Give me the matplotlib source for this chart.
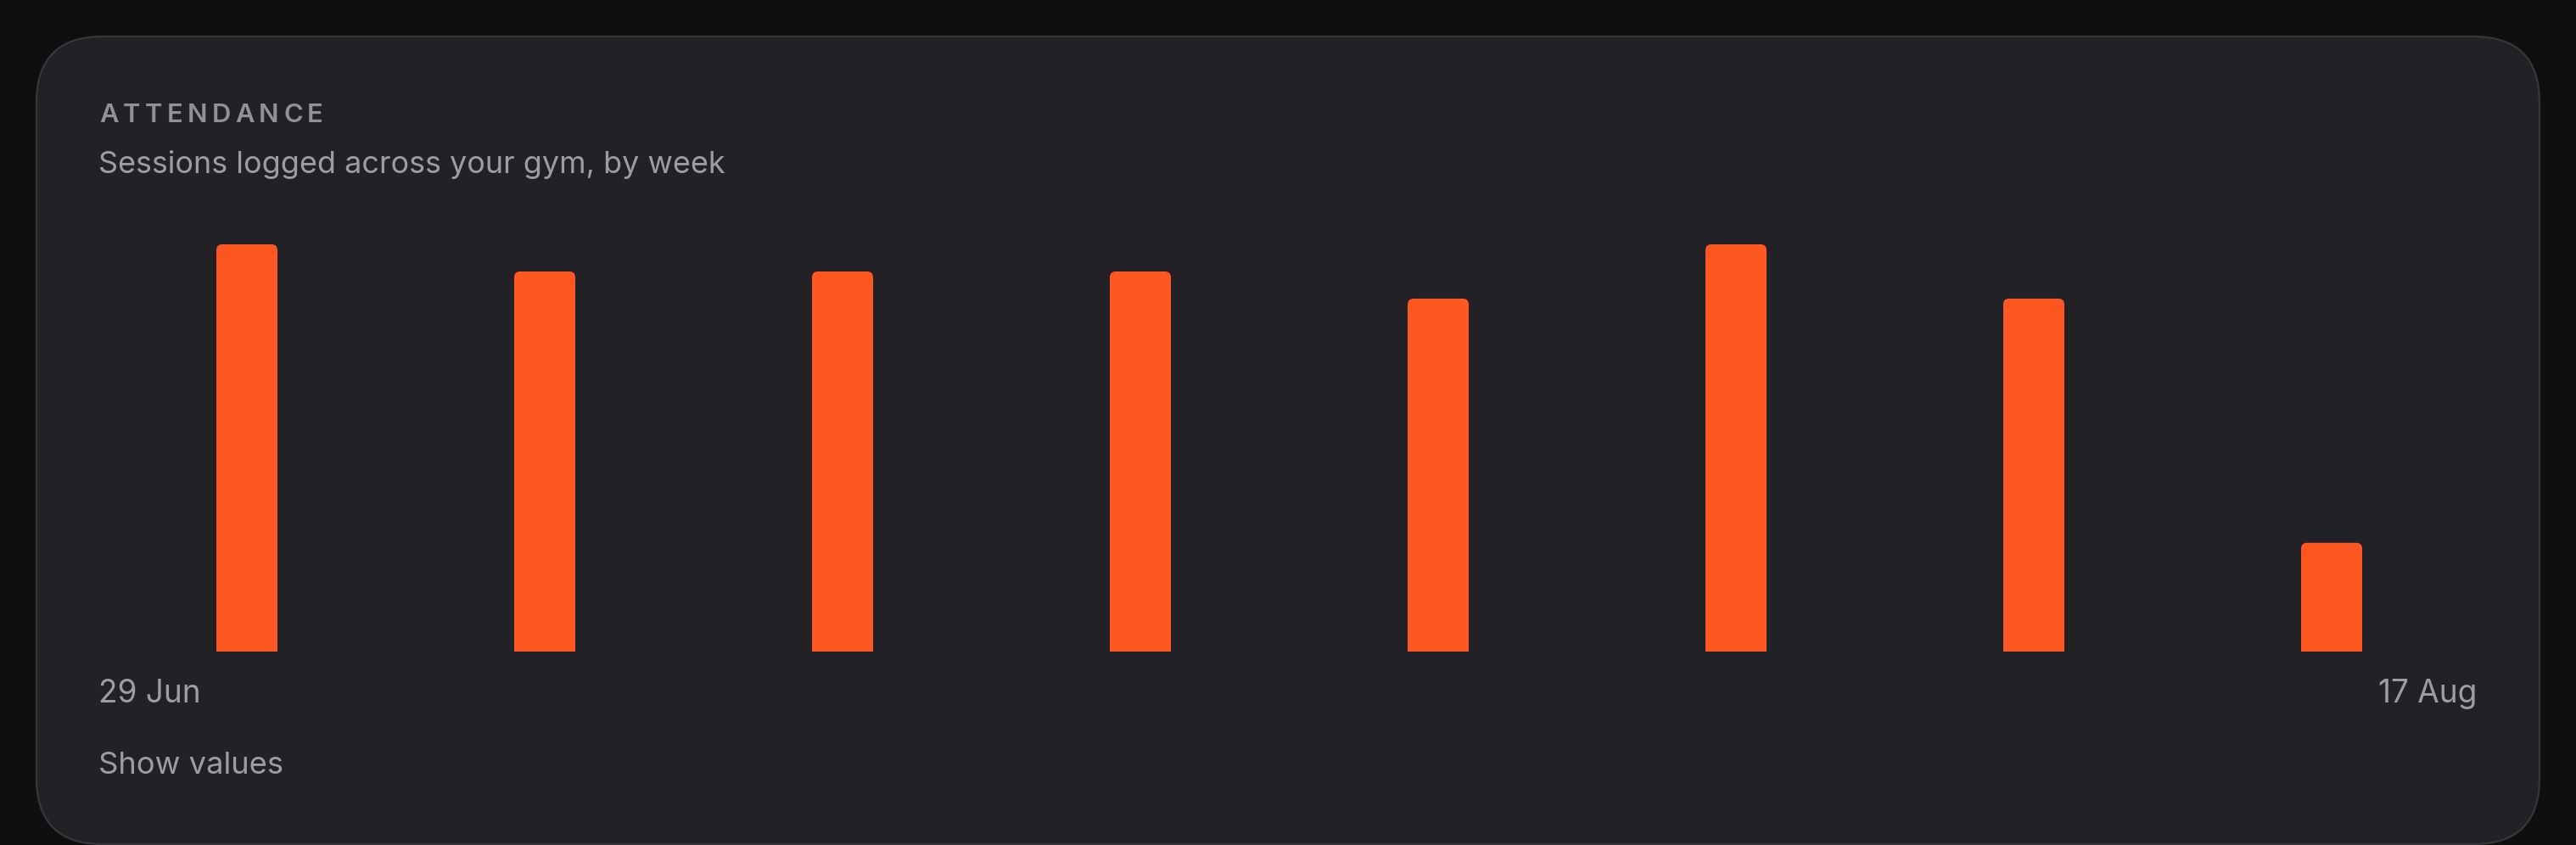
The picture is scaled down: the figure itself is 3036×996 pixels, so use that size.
import matplotlib
matplotlib.use('Agg')
import matplotlib.pyplot as plt
from matplotlib.patches import FancyBboxPatch
import numpy as np

# data
weeks = ['29 Jun', '6 Jul', '13 Jul', '20 Jul', '27 Jul', '3 Aug', '10 Aug', '17 Aug']
sessions = [15, 14, 14, 14, 13, 15, 13, 4]
edge_labels = [weeks[0], weeks[-1]]
title = 'ATTENDANCE'
subtitle = 'Sessions logged across your gym, by week'
footer = 'Show values'

# colours
page_bg = '#0f0f10'
card_bg = '#212126'
card_edge = '#36363c'
bar_color = '#ff5722'
title_color = '#92919b'
text_color = '#9d9ca5'

W, H = 3036, 996
fig = plt.figure(figsize=(W / 100, H / 100), dpi=100, facecolor=page_bg)
plt.rcParams['font.family'] = ['Inter', 'DejaVu Sans']

# background axes in pixel units (y down)
bg = fig.add_axes([0, 0, 1, 1])
bg.set_xlim(0, W)
bg.set_ylim(H, 0)
bg.axis('off')

card = FancyBboxPatch((43, 43), 2950, 952, boxstyle='round,pad=0,rounding_size=78',
                      facecolor=card_bg, edgecolor=card_edge, linewidth=1.6)
bg.add_patch(card)

# chart axes
left, right, top, bottom = 115.5, 2923.5, 288, 767.7
ax = fig.add_axes([left / W, (H - bottom) / H, (right - left) / W, (bottom - top) / H])
ax.set_facecolor('none')
ax.set_xlim(-0.5, len(sessions) - 0.5)
ax.set_ylim(0, max(sessions))
ax.axis('off')

x = np.arange(len(sessions))
bar_w = 72 / 351
px_x = (right - left) / len(sessions)          # pixels per x unit
px_y = (bottom - top) / max(sessions)          # pixels per y unit
radius = 7 / px_x
aspect = px_x / px_y

# square lower part + rounded full bar on top
ax.bar(x, [v * 0.5 for v in sessions], width=bar_w, color=bar_color, linewidth=0)
for xi, v in zip(x, sessions):
    ax.add_patch(FancyBboxPatch((xi - bar_w / 2, 0), bar_w, v,
                                boxstyle=f'round,pad=0,rounding_size={radius}',
                                mutation_aspect=aspect, facecolor=bar_color,
                                edgecolor='none', linewidth=0))

# title with letter spacing
renderer = fig.canvas.get_renderer()
title_size = 22.3
title_weight = 'semibold'
target_w = 264
probe = bg.text(0, 0, title, fontsize=title_size, fontweight=title_weight)
plain_w = probe.get_window_extent(renderer).width
probe.remove()
track = (target_w - plain_w) / (len(title) - 1)
for i, ch in enumerate(title):
    if i == 0:
        off = 0
    else:
        p = bg.text(0, 0, title[:i], fontsize=title_size, fontweight=title_weight)
        off = p.get_window_extent(renderer).width
        p.remove()
    bg.text(117 + off + i * track, 144, ch, fontsize=title_size, color=title_color,
            va='baseline', ha='left', fontweight=title_weight)

bg.text(116, 204, subtitle, fontsize=25.9, color=text_color, va='baseline', ha='left')

bg.text(116, 828, edge_labels[0], fontsize=26.6, color=text_color, va='baseline', ha='left')
bg.text(2919, 828, edge_labels[1], fontsize=26.6, color=text_color, va='baseline', ha='right')
bg.text(116, 911.7, footer, fontsize=26.2, color=text_color, va='baseline', ha='left')

fig.savefig('out.png', dpi=100, facecolor=page_bg)
